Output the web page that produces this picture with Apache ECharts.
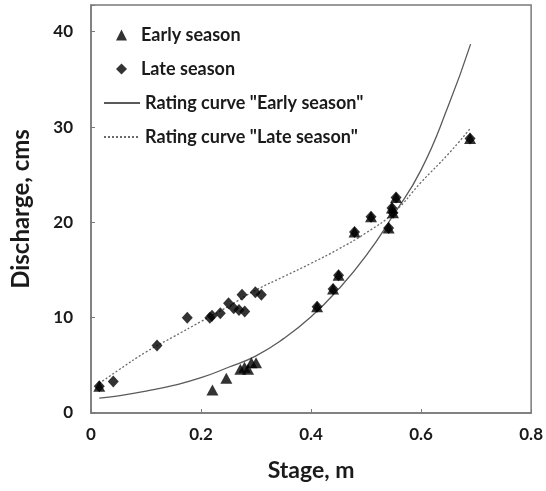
<!DOCTYPE html>
<html>
<head>
<meta charset="utf-8">
<script src="https://cdn.jsdelivr.net/npm/echarts@6/dist/echarts.min.js"></script>
<style>html,body{margin:0;padding:0;background:#fff}#c{width:546px;height:491px}</style>
</head>
<body>
<div id="c"></div>
<script>
// Observations
const earlyStage = [0.015, 0.411, 0.440, 0.450, 0.479, 0.509, 0.541, 0.547, 0.549, 0.5545, 0.689,
                    0.2207, 0.246, 0.2715, 0.279, 0.2855, 0.2915, 0.300];
const earlyQ     = [2.8, 11.15, 13.0, 14.45, 19.0, 20.6, 19.4, 21.5, 21.0, 22.6, 28.8,
                    2.4, 3.64, 4.6, 4.8, 4.6, 5.28, 5.28];
const lateStage  = [0.015, 0.411, 0.440, 0.450, 0.479, 0.509, 0.541, 0.547, 0.549, 0.5545, 0.689,
                    0.0405, 0.120, 0.175, 0.216, 0.220, 0.235, 0.250, 0.2594, 0.269, 0.2745, 0.2794, 0.2987, 0.3096];
const lateQ      = [2.8, 11.15, 13.0, 14.45, 19.0, 20.6, 19.4, 21.5, 21.0, 22.6, 28.8,
                    3.3, 7.07, 10.0, 10.0, 10.2, 10.46, 11.5, 11.0, 10.8, 12.4, 10.64, 12.67, 12.4];
// Rating curves
const curveStage = [0.015, 0.05, 0.10, 0.15, 0.20, 0.25, 0.30, 0.35, 0.40, 0.45, 0.50, 0.55, 0.60, 0.65, 0.69];
const earlyCurveQ = [1.55, 1.8, 2.3, 2.9, 3.7, 4.8, 6.0, 7.8, 10.1, 13.0, 16.5, 20.8, 25.5, 32.3, 38.7];
const lateCurveQ  = [3.1, 4.5, 6.4, 8.0, 9.6, 11.2, 12.9, 14.3, 15.7, 17.2, 18.9, 21.0, 24.2, 27.2, 29.9];
const xTicks = [0, 0.2, 0.4, 0.6, 0.8];
const yTicks = [0, 10, 20, 30, 40];

const pairs = (xs, ys) => xs.map((x, i) => [x, ys[i]]);
const FONT = 'Lato';
const chart = echarts.init(document.getElementById('c'));
chart.setOption({
  animation: false,
  backgroundColor: '#fff',
  grid: { left: 91, right: 14, top: 5, bottom: 78, show: true, borderColor: '#7a7a7a', borderWidth: 1.5, backgroundColor: 'transparent' },
  xAxis: {
    type: 'value', min: xTicks[0], max: xTicks[xTicks.length - 1], interval: 0.2,
    name: 'Stage, m', nameLocation: 'middle', nameGap: 46,
    nameTextStyle: { fontFamily: FONT, fontWeight: 'bold', fontSize: 23, color: '#1a1a1a' },
    axisLine: { lineStyle: { color: '#7a7a7a', width: 1.5 } },
    axisTick: { inside: true, length: 4, lineStyle: { color: '#7a7a7a' } },
    axisLabel: { fontFamily: FONT, fontWeight: 'bold', fontSize: 17, color: '#1a1a1a', margin: 13,
                 formatter: v => xTicks.includes(+v.toFixed(2)) ? String(+v.toFixed(1)) : '' },
    splitLine: { show: false }
  },
  yAxis: {
    type: 'value', min: 0, max: 42.8, interval: 10,
    name: 'Discharge, cms', nameLocation: 'middle', nameGap: 58, nameRotate: 90,
    nameTextStyle: { fontFamily: FONT, fontWeight: 'bold', fontSize: 24, color: '#1a1a1a' },
    axisLine: { lineStyle: { color: '#7a7a7a', width: 1.5 } },
    axisTick: { inside: true, length: 4, lineStyle: { color: '#7a7a7a' } },
    axisLabel: { fontFamily: FONT, fontWeight: 'bold', fontSize: 17, color: '#1a1a1a', margin: 18,
                 formatter: v => yTicks.includes(v) ? String(v) : '' },
    splitLine: { show: false }
  },
  legend: [
    {
      orient: 'vertical', left: 116, top: 25, padding: 0, itemWidth: 11, itemHeight: 11, itemGap: 14,
      data: ['Early season', 'Late season'],
      textStyle: { fontFamily: FONT, fontWeight: 'bold', fontSize: 18, color: '#1a1a1a', lineHeight: 20, padding: [0, 0, 0, 9] }
    },
    {
      orient: 'vertical', left: 103, top: 93, padding: 0, itemWidth: 36, itemHeight: 14, itemGap: 14,
      data: ['Rating curve "Early season"', 'Rating curve "Late season"'],
      itemStyle: { opacity: 0 },
      textStyle: { fontFamily: FONT, fontWeight: 'bold', fontSize: 18, color: '#1a1a1a', lineHeight: 20 }
    }
  ],
  series: [
    { name: 'Rating curve "Early season"', type: 'line', data: pairs(curveStage, earlyCurveQ), smooth: true,
      symbol: 'none', lineStyle: { color: '#5a5a5a', width: 1.3 }, itemStyle: { color: '#5a5a5a' }, z: 2 },
    { name: 'Rating curve "Late season"', type: 'line', data: pairs(curveStage, lateCurveQ), smooth: true,
      symbol: 'none', lineStyle: { color: '#6a6a6a', width: 1.3, type: [2, 2] }, itemStyle: { color: '#6a6a6a' }, z: 2 },
    { name: 'Late season', type: 'scatter', data: pairs(lateStage, lateQ), symbol: 'diamond', symbolSize: [11, 12],
      itemStyle: { color: '#000' }, z: 3 },
    { name: 'Early season', type: 'scatter', data: pairs(earlyStage, earlyQ), symbol: 'triangle', symbolSize: [12, 11],
      itemStyle: { color: '#000' }, z: 4 }
  ]
});
</script>
</body>
</html>
